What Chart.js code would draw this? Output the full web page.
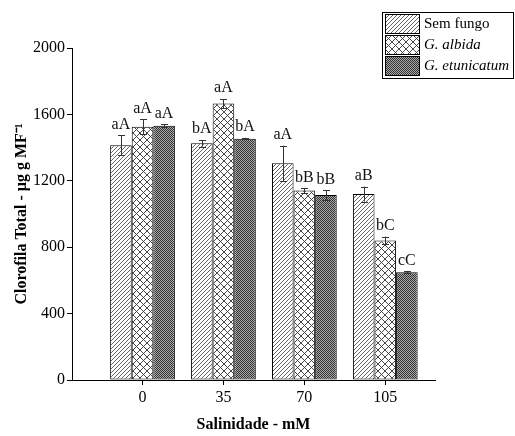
<!DOCTYPE html>
<html>
<head>
<meta charset="utf-8">
<script src="https://cdn.jsdelivr.net/npm/chart.js@4/dist/chart.umd.min.js"></script>
<style>
html,body{margin:0;padding:0;background:#fff;}
#wrap{width:515px;height:436px;position:relative;}
</style>
</head>
<body>
<div id="wrap"><canvas id="c" width="515" height="436"></canvas></div>
<script>
// ---- data ----
const categories = [0, 35, 70, 105];
const seriesNames = ['Sem fungo', 'G. albida', 'G. etunicatum'];
const semFungo = [1414, 1426, 1305, 1120];
const semFungoErr = [60, 20, 107, 45];
const albida = [1526, 1665, 1141, 841];
const albidaErr = [44, 27, 13, 23];
const etunicatum = [1532, 1454, 1114, 649];
const etunicatumErr = [8, 5, 28, 5];
const semFungoLetters = ['aA', 'bA', 'aA', 'aB'];
const albidaLetters = ['aA', 'aA', 'bB', 'bC'];
const etunicatumLetters = ['aA', 'bA', 'bB', 'cC'];
const yTicks = [0, 400, 800, 1200, 1600, 2000];

// ---- patterns ----
function makePattern(size, draw) {
  const c = document.createElement('canvas');
  c.width = size; c.height = size;
  const g = c.getContext('2d');
  draw(g, size);
  return document.getElementById('c').getContext('2d').createPattern(c, 'repeat');
}
const patDiag = makePattern(4, (g, s) => {
  g.fillStyle = '#fff'; g.fillRect(0, 0, s, s);
  g.strokeStyle = '#555'; g.lineWidth = 0.9;
  g.beginPath();
  g.moveTo(-1, s + 1); g.lineTo(s + 1, -1);
  g.moveTo(-1, 1); g.lineTo(1, -1);
  g.moveTo(s - 1, s + 1); g.lineTo(s + 1, s - 1);
  g.stroke();
});
const patCross = makePattern(7, (g, s) => {
  g.fillStyle = '#fff'; g.fillRect(0, 0, s, s);
  g.strokeStyle = '#333'; g.lineWidth = 0.9;
  g.beginPath();
  g.moveTo(0, 0); g.lineTo(s, s);
  g.moveTo(0, s); g.lineTo(s, 0);
  g.stroke();
});
const patDots = makePattern(2, (g, s) => {
  g.fillStyle = '#a8a8a8'; g.fillRect(0, 0, s, s);
  g.fillStyle = '#333333'; g.fillRect(0, 0, 1, 1); g.fillRect(1, 1, 1, 1);
});

const valuesList = [semFungo, albida, etunicatum];
const errList = [semFungoErr, albidaErr, etunicatumErr];
const letterList = [semFungoLetters, albidaLetters, etunicatumLetters];
const patterns = [patDiag, patCross, patDots];

const datasets = valuesList.map((vals, i) => ({
  label: seriesNames[i],
  data: categories.map((c, j) => ({ x: c, y: vals[j] })),
  backgroundColor: patterns[i],
  borderColor: '#000',
  borderWidth: 1,
  borderSkipped: false,
  categoryPercentage: 0.8,
  barPercentage: 1.0
}));

const SERIF = "'Liberation Serif', 'Times New Roman', serif";

const errLabelPlugin = {
  id: 'errLabel',
  afterDatasetsDraw(chart) {
    const ctx = chart.ctx;
    const ys = chart.scales.y;
    ctx.save();
    chart.data.datasets.forEach((ds, i) => {
      const meta = chart.getDatasetMeta(i);
      meta.data.forEach((el, j) => {
        const v = valuesList[i][j], e = errList[i][j];
        const yt = ys.getPixelForValue(v + e);
        const yb = ys.getPixelForValue(v - e);
        const x = Math.round(el.x) + 0.5;
        ctx.strokeStyle = '#333';
        ctx.lineWidth = 1;
        ctx.beginPath();
        ctx.moveTo(x, yt); ctx.lineTo(x, yb);
        ctx.moveTo(x - 3.5, Math.round(yt) + 0.5); ctx.lineTo(x + 3.5, Math.round(yt) + 0.5);
        ctx.moveTo(x - 3.5, Math.round(yb) + 0.5); ctx.lineTo(x + 3.5, Math.round(yb) + 0.5);
        ctx.stroke();
        ctx.fillStyle = '#111';
        ctx.font = '16px ' + SERIF;
        ctx.textAlign = 'center';
        ctx.textBaseline = 'bottom';
        ctx.fillText(letterList[i][j], el.x, Math.min(yt, el.y) - 3);
      });
    });
    ctx.restore();
  }
};

const legendPlugin = {
  id: 'boxLegend',
  afterDraw(chart) {
    const ctx = chart.ctx;
    ctx.save();
    ctx.strokeStyle = '#000';
    ctx.lineWidth = 1;
    ctx.strokeRect(382.5, 12.5, 131, 66);
    const rows = [14, 35, 56];
    chart.data.datasets.forEach((ds, i) => {
      const y = rows[i];
      ctx.fillStyle = ds.backgroundColor;
      ctx.fillRect(385, y, 35, 20);
      ctx.strokeStyle = '#000';
      ctx.strokeRect(385.5, y + 0.5, 34, 19);
      ctx.fillStyle = '#000';
      ctx.font = (i === 0 ? '' : 'italic ') + '15px ' + SERIF;
      ctx.textAlign = 'left';
      ctx.textBaseline = 'middle';
      ctx.fillText(ds.label, 424, y + 10.5);
    });
    ctx.restore();
  }
};

new Chart(document.getElementById('c'), {
  type: 'bar',
  data: { datasets },
  options: {
    responsive: false,
    animation: false,
    devicePixelRatio: 1,
    layout: { padding: { top: 48, right: 80, left: 0, bottom: 0 } },
    plugins: { legend: { display: false }, tooltip: { enabled: false } },
    scales: {
      x: {
        type: 'linear',
        min: -30.5,
        max: 126.5,
        offset: false,
        afterBuildTicks(scale) { scale.ticks = categories.map(v => ({ value: v })); },
        afterFit(scale) { scale.height = 56; },
        grid: { offset: false, drawOnChartArea: false, drawTicks: true, tickLength: 5, color: '#000' },
        border: { display: true, color: '#000', width: 1 },
        ticks: { color: '#000', font: { family: SERIF, size: 16 }, padding: 3, maxRotation: 0,
                 callback: v => String(v) },
        title: { display: true, text: 'Salinidade - mM', color: '#000',
                 font: { family: SERIF, size: 16, weight: 'bold' }, padding: { top: 4, bottom: 2 } }
      },
      y: {
        min: 0,
        max: 2000,
        afterBuildTicks(scale) { scale.ticks = yTicks.map(v => ({ value: v })); },
        afterFit(scale) { scale.width = 72; },
        grid: { drawOnChartArea: false, drawTicks: true, tickLength: 5, color: '#000' },
        border: { display: true, color: '#000', width: 1 },
        ticks: { color: '#000', font: { family: SERIF, size: 16 }, padding: 2,
                 callback: v => String(v) },
        title: { display: true, text: 'Clorofila Total - µg g MF⁻¹', color: '#000',
                 font: { family: SERIF, size: 16, weight: 'bold' }, padding: { top: 12, bottom: 0 } }
      }
    }
  },
  plugins: [errLabelPlugin, legendPlugin]
});
</script>
</body>
</html>
